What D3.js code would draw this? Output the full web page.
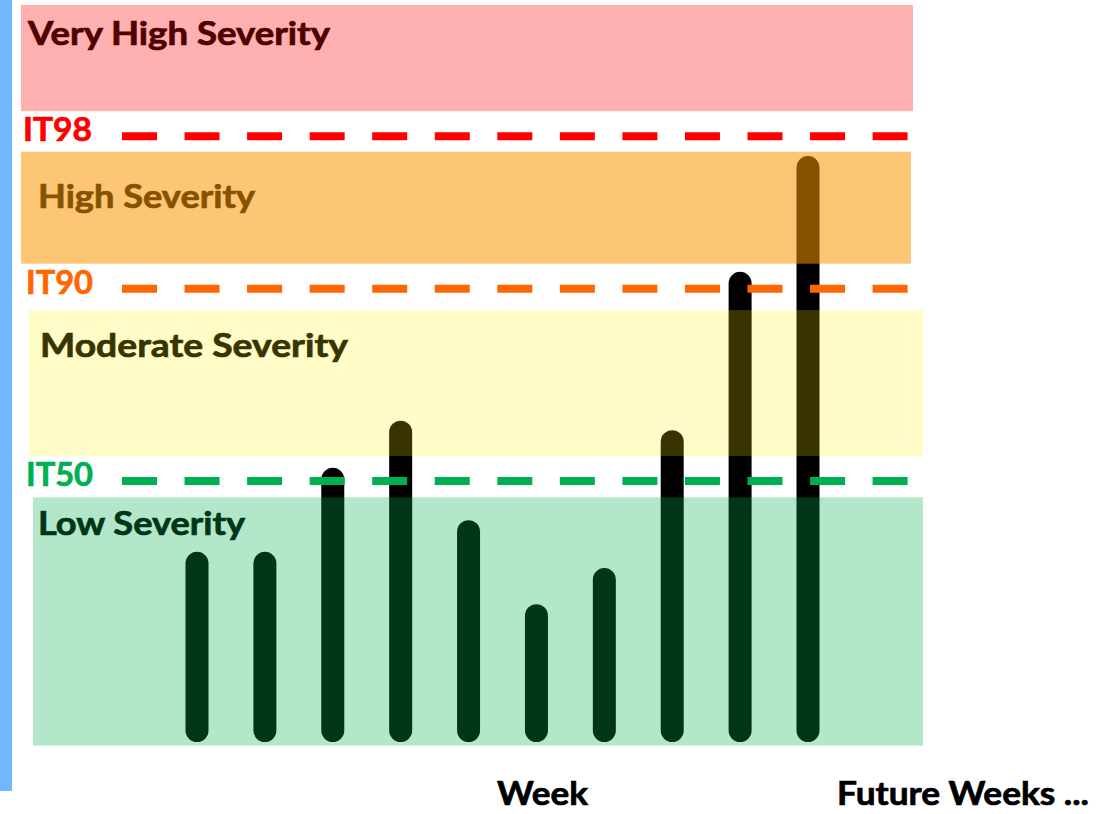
<!DOCTYPE html>
<html>
<head>
<meta charset="utf-8">
<script src="https://cdn.jsdelivr.net/npm/d3@7"></script>
<style>
  html, body { margin: 0; padding: 0; background: #ffffff; }
  svg { display: block; }
  text { font-family: "Lato", "Open Sans", sans-serif; font-weight: 700; stroke-width: 0.7px; paint-order: stroke; }
</style>
</head>
<body>
<svg id="chart" width="1102" height="814"></svg>
<script>
// Weekly index values (0–100 scale)
const weeks = [1, 2, 3, 4, 5, 6, 7, 8, 9, 10];
const weeklyValues = [25.8, 25.8, 37.2, 43.6, 30.1, 18.7, 23.6, 42.3, 63.8, 79.5];

// Severity zones, lower and upper bound on the same scale
const bandNames = ["Very High Severity", "High Severity", "Moderate Severity", "Low Severity"];
const bandLow  = [85.6, 64.9, 38.8, -0.5];
const bandHigh = [100, 80.1, 58.6, 33.2];

// Intensity thresholds
const thresholdNames  = ["IT98", "IT90", "IT50"];
const thresholdValues = [82.2, 61.5, 35.4];

// Horizontal labels under the plot
const axisLabels = ["Week", "Future Weeks ..."];

// ---- layout & styling ----
const bandStyle = [
  { x0: 21, x1: 913, fill: "#ff0000", opacity: 0.31, lx: 28, ly: 45,  w: 302 },
  { x0: 21, x1: 911, fill: "#fa9600", opacity: 0.54, lx: 38, ly: 208, w: 217 },
  { x0: 29, x1: 923, fill: "#fff000", opacity: 0.215, lx: 40, ly: 357, w: 308 },
  { x0: 33, x1: 923, fill: "#00b050", opacity: 0.30, lx: 38, ly: 535, w: 207 }
];
const thresholdStyle = [
  { color: "#ff0000", lx: 23, w: 69 },
  { color: "#ff6600", lx: 26, w: 67 },
  { color: "#00b050", lx: 26, w: 67 }
];
const axisLabelStyle = [
  { x: 497, y: 805, w: 91 },
  { x: 837, y: 805, w: 252 }
];
const FONT = 32;
const BAR_W = 23;

const svg = d3.select("#chart");

const y = d3.scaleLinear().domain([0, 100]).range([742, 5]);
const x = d3.scalePoint().domain(weeks).range([197, 808]);

// fit a text element to a given width
function fit(sel, width) {
  sel.each(function () {
    const len = this.getComputedTextLength();
    if (Math.abs(len - width) > 1) {
      d3.select(this).attr("textLength", width).attr("lengthAdjust", "spacingAndGlyphs");
    }
  });
}

function label(parent, str, px, py, color, width) {
  parent.append("text")
    .attr("x", px).attr("y", py)
    .attr("font-size", FONT)
    .attr("fill", color)
    .attr("stroke", color)
    .text(str)
    .call(fit, width);
}

// left accent strip
svg.append("rect")
  .attr("x", 0).attr("y", 0).attr("width", 12).attr("height", 791)
  .attr("fill", "#6fb7ff");

// weekly bars (rounded)
svg.append("g").selectAll("rect")
  .data(weeks.map((w, i) => ({ w, v: weeklyValues[i] })))
  .join("rect")
  .attr("x", d => x(d.w) - BAR_W / 2)
  .attr("y", d => y(d.v))
  .attr("width", BAR_W)
  .attr("height", d => y(0) - y(d.v))
  .attr("rx", BAR_W / 2)
  .attr("fill", "#000000");

// zone captions (tinted by the translucent zone drawn over them)
bandNames.forEach((name, i) => {
  const s = bandStyle[i];
  label(svg, name, s.lx, s.ly, "#000000", s.w);
});

// translucent severity zones
svg.append("g").selectAll("rect")
  .data(bandNames.map((n, i) => ({ n, lo: bandLow[i], hi: bandHigh[i], s: bandStyle[i] })))
  .join("rect")
  .attr("x", d => d.s.x0)
  .attr("width", d => d.s.x1 - d.s.x0)
  .attr("y", d => y(d.hi))
  .attr("height", d => y(d.lo) - y(d.hi))
  .attr("fill", d => d.s.fill)
  .attr("fill-opacity", d => d.s.opacity);

// threshold dashed lines and labels
thresholdNames.forEach((name, i) => {
  const s = thresholdStyle[i];
  const ty = y(thresholdValues[i]);
  svg.append("line")
    .attr("x1", 122).attr("x2", 908)
    .attr("y1", ty).attr("y2", ty)
    .attr("stroke", s.color)
    .attr("stroke-width", 8)
    .attr("stroke-dasharray", "35 27.55");
  label(svg, name, s.lx, ty + 5, s.color, s.w);
});

// labels under the plot
axisLabels.forEach((t, i) => {
  const s = axisLabelStyle[i];
  label(svg, t, s.x, s.y, "#000000", s.w);
});
</script>
</body>
</html>
